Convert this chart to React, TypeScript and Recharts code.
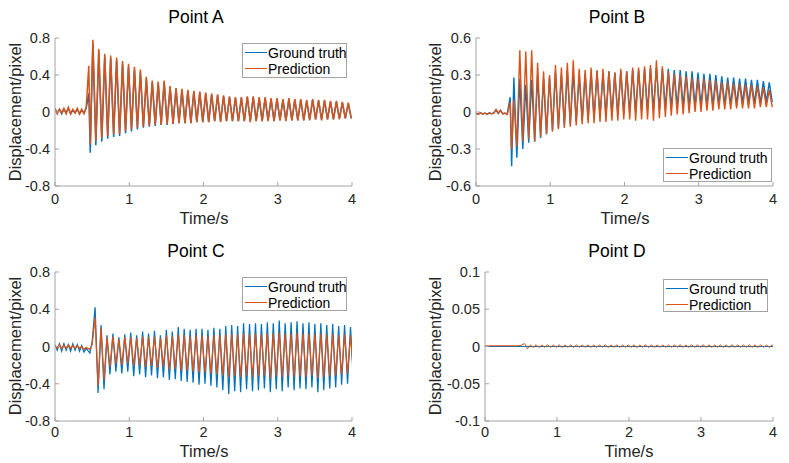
import React from "react";
import { Line, LineChart, XAxis, YAxis } from "recharts";

const BLUE = "#0072BD";
const ORANGE = "#D95319";
const AXIS = "#a3a3a3";
const TEXT = "#262626";
const FONT = '"Liberation Sans", Arial, Helvetica, sans-serif';

const timeTicks = [0, 1, 2, 3, 4];
const PRE_STEP = 0.03;

// ---- Point A ----
const aTicks = [-0.8, -0.4, 0, 0.4, 0.8];
const aPreGt = [0.03, -0.01, 0.03, -0.02, 0.03, -0.01, 0.04, -0.02, 0.02, -0.01, 0.03, -0.02, 0.02, -0.01, 0.04];
const aPrePred = [0.04, -0.02, 0.03, -0.01, 0.04, -0.02, 0.05, -0.02, 0.03, -0.01, 0.04, -0.02, 0.03, -0.02, 0.05];
const aOnsetT = [0.455, 0.475];
const aOnsetGt = [0.2, -0.44];
const aOnsetPred = [0.5, -0.35];
const aStart = 0.51;
const aPeriod = 0.08;
const aPeaksGt = [0.74, 0.65, 0.6, 0.58, 0.56, 0.52, 0.49, 0.46, 0.43, 0.36, 0.32, 0.31, 0.32, 0.27, 0.25, 0.24, 0.23, 0.22, 0.21, 0.2, 0.19, 0.18, 0.17, 0.16, 0.15, 0.15, 0.16, 0.16, 0.15, 0.15, 0.14, 0.14, 0.13, 0.14, 0.13, 0.13, 0.12, 0.13, 0.12, 0.12, 0.11, 0.11, 0.1, 0.09];
const aTroughsGt = [-0.36, -0.32, -0.29, -0.27, -0.26, -0.23, -0.21, -0.19, -0.17, -0.16, -0.15, -0.14, -0.14, -0.13, -0.12, -0.12, -0.12, -0.11, -0.11, -0.11, -0.1, -0.1, -0.1, -0.1, -0.1, -0.1, -0.1, -0.1, -0.1, -0.09, -0.1, -0.09, -0.09, -0.09, -0.09, -0.09, -0.08, -0.08, -0.08, -0.08, -0.08, -0.07, -0.07, -0.07];
const aPeaksPred = [0.78, 0.68, 0.63, 0.61, 0.59, 0.55, 0.52, 0.49, 0.46, 0.38, 0.34, 0.33, 0.34, 0.28, 0.26, 0.25, 0.24, 0.23, 0.22, 0.21, 0.2, 0.19, 0.18, 0.17, 0.16, 0.16, 0.17, 0.17, 0.16, 0.16, 0.15, 0.15, 0.14, 0.15, 0.14, 0.14, 0.13, 0.14, 0.13, 0.13, 0.12, 0.12, 0.11, 0.1];
const aTroughsPred = [-0.31, -0.28, -0.26, -0.24, -0.24, -0.21, -0.19, -0.17, -0.16, -0.15, -0.14, -0.14, -0.13, -0.13, -0.12, -0.12, -0.12, -0.11, -0.11, -0.11, -0.1, -0.11, -0.1, -0.1, -0.1, -0.1, -0.11, -0.1, -0.1, -0.1, -0.1, -0.09, -0.1, -0.09, -0.09, -0.09, -0.09, -0.08, -0.09, -0.08, -0.08, -0.08, -0.07, -0.07];

// ---- Point B ----
const bTicks = [-0.6, -0.3, 0, 0.3, 0.6];
const bPreGt = [-0.012, -0.018, -0.006, -0.016, -0.01, -0.018, -0.008, -0.014, -0.008, 0.018, -0.012, 0.012, -0.014, -0.01, -0.018];
const bPrePred = [-0.01, -0.02, -0.005, -0.018, -0.008, -0.02, -0.006, -0.015, -0.01, 0.02, -0.01, 0.015, -0.015, -0.008, -0.02];
const bOnsetT = [0.46, 0.48];
const bOnsetGt = [0.12, -0.44];
const bOnsetPred = [0.08, -0.3];
const bStart = 0.51;
const bPeriod = 0.08;
const bPeaksGt = [0.28, 0.27, 0.22, 0.26, 0.3, 0.27, 0.28, 0.32, 0.3, 0.33, 0.32, 0.3, 0.31, 0.32, 0.33, 0.31, 0.33, 0.32, 0.33, 0.33, 0.34, 0.34, 0.35, 0.36, 0.36, 0.35, 0.35, 0.34, 0.34, 0.33, 0.33, 0.32, 0.31, 0.31, 0.3, 0.29, 0.28, 0.28, 0.27, 0.27, 0.26, 0.26, 0.25, 0.24];
const bTroughsGt = [-0.37, -0.3, -0.25, -0.24, -0.21, -0.18, -0.15, -0.13, -0.11, -0.1, -0.08, -0.07, -0.06, -0.05, -0.04, -0.03, -0.02, -0.02, -0.01, 0, 0, 0.01, 0.01, 0.02, 0.02, 0.03, 0.03, 0.04, 0.04, 0.04, 0.05, 0.05, 0.05, 0.05, 0.06, 0.06, 0.06, 0.06, 0.07, 0.07, 0.07, 0.07, 0.08, 0.08];
const bPeaksPred = [0.1, 0.5, 0.49, 0.5, 0.4, 0.33, 0.3, 0.38, 0.36, 0.4, 0.42, 0.35, 0.34, 0.36, 0.34, 0.35, 0.33, 0.32, 0.35, 0.33, 0.36, 0.36, 0.37, 0.38, 0.42, 0.37, 0.33, 0.31, 0.3, 0.29, 0.28, 0.27, 0.27, 0.26, 0.25, 0.24, 0.24, 0.23, 0.23, 0.22, 0.22, 0.21, 0.2, 0.18];
const bTroughsPred = [-0.28, -0.24, -0.22, -0.24, -0.2, -0.18, -0.16, -0.14, -0.13, -0.12, -0.11, -0.1, -0.09, -0.09, -0.08, -0.08, -0.07, -0.07, -0.06, -0.06, -0.07, -0.06, -0.06, -0.07, -0.05, -0.04, -0.03, -0.02, -0.02, -0.01, 0, 0, 0.01, 0.01, 0.02, 0.02, 0.02, 0.03, 0.03, 0.03, 0.03, 0.04, 0.04, 0.04];

// ---- Point C ----
const cTicks = [-0.8, -0.4, 0, 0.4, 0.8];
const cPreGt = [0.02, -0.04, 0.03, -0.05, 0.03, -0.04, 0.02, -0.05, 0.03, -0.04, 0.02, -0.05, 0.01, -0.06, -0.02];
const cPrePred = [0.01, -0.02, 0.02, -0.02, 0.01, -0.02, 0.02, -0.02, 0.01, -0.02, 0.01, -0.02, 0, -0.03, -0.01];
const cOnsetT = [0.47, 0.5, 0.54, 0.58, 0.62, 0.66];
const cOnsetGt = [-0.07, 0.05, 0.42, -0.5, 0.23, -0.46];
const cOnsetPred = [-0.03, 0.02, 0.31, -0.42, 0.2, -0.36];
const cStart = 0.7;
const cPeriod = 0.08;
const cPeaksGt = [0.12, 0.14, 0.1, 0.13, 0.15, 0.12, 0.16, 0.14, 0.17, 0.12, 0.18, 0.16, 0.21, 0.19, 0.18, 0.19, 0.19, 0.18, 0.2, 0.19, 0.22, 0.23, 0.22, 0.25, 0.24, 0.25, 0.24, 0.26, 0.25, 0.28, 0.25, 0.26, 0.27, 0.25, 0.26, 0.24, 0.25, 0.23, 0.24, 0.22, 0.23, 0.21];
const cTroughsGt = [-0.3, -0.27, -0.29, -0.27, -0.32, -0.3, -0.33, -0.31, -0.34, -0.33, -0.36, -0.35, -0.37, -0.38, -0.39, -0.41, -0.4, -0.42, -0.44, -0.47, -0.51, -0.48, -0.49, -0.46, -0.48, -0.47, -0.45, -0.49, -0.46, -0.48, -0.44, -0.47, -0.45, -0.46, -0.44, -0.49, -0.47, -0.45, -0.44, -0.41, -0.4, -0.38];
const cPeaksPred = [0.1, 0.11, 0.08, 0.1, 0.1, 0.09, 0.11, 0.1, 0.11, 0.09, 0.12, 0.11, 0.13, 0.12, 0.11, 0.12, 0.12, 0.11, 0.12, 0.12, 0.13, 0.13, 0.13, 0.14, 0.13, 0.14, 0.13, 0.14, 0.14, 0.15, 0.14, 0.14, 0.15, 0.14, 0.14, 0.13, 0.14, 0.13, 0.13, 0.12, 0.13, 0.12];
const cTroughsPred = [-0.22, -0.19, -0.2, -0.18, -0.21, -0.2, -0.22, -0.21, -0.23, -0.22, -0.25, -0.24, -0.26, -0.26, -0.27, -0.28, -0.28, -0.29, -0.3, -0.31, -0.33, -0.32, -0.33, -0.31, -0.33, -0.32, -0.31, -0.34, -0.32, -0.33, -0.31, -0.33, -0.32, -0.33, -0.31, -0.34, -0.33, -0.32, -0.31, -0.3, -0.29, -0.28];

// ---- Point D ----
const dTicks = [-0.1, -0.05, 0, 0.05, 0.1];
const dGtFlat = [0, 0];
const dPrePred = [0.001, 0.001];
const dOnsetT = [0.5];
const dOnsetPred = [0.0015];
const dStart = 0.55;
const dPeriod = 0.08;
const dPeaksPred = [0.004, 0.0022, 0.0025, 0.002, 0.0022, 0.002, 0.0024, 0.002, 0.0021, 0.0023, 0.002, 0.0022, 0.002, 0.0021, 0.0023, 0.002, 0.0022, 0.002, 0.0021, 0.0022, 0.002, 0.0023, 0.0021, 0.002, 0.0022, 0.002, 0.0021, 0.0023, 0.002, 0.0022, 0.0021, 0.0024, 0.0022, 0.002, 0.0023, 0.0021, 0.0024, 0.0022, 0.0021, 0.0023, 0.0022, 0.0024, 0.0021, 0.0022];
const dTroughsPred = [-0.003, -0.0012, -0.0014, -0.001, -0.0012, -0.0011, -0.0013, -0.001, -0.0012, -0.0011, -0.001, -0.0012, -0.0011, -0.001, -0.0013, -0.0011, -0.0012, -0.001, -0.0011, -0.0012, -0.001, -0.0013, -0.0011, -0.001, -0.0012, -0.0011, -0.001, -0.0012, -0.0011, -0.0013, -0.001, -0.0012, -0.0011, -0.001, -0.0013, -0.0012, -0.0011, -0.001, -0.0012, -0.0011, -0.0013, -0.001, -0.0012, -0.0011];

type Pt = { t: number; v: number };

function buildSeries(
  pre: number[],
  preStep: number,
  onsetT: number[],
  onsetV: number[],
  start: number,
  period: number,
  peaks: number[],
  troughs: number[]
): Pt[] {
  const pts: Pt[] = pre.map((v, i) => ({ t: i * preStep, v }));
  onsetT.forEach((t, i) => pts.push({ t, v: onsetV[i] }));
  peaks.forEach((p, i) => {
    const t = start + i * period;
    pts.push({ t, v: p });
    if (troughs[i] !== undefined) pts.push({ t: t + period / 2, v: troughs[i] });
  });
  return pts;
}

const seriesA = {
  gt: buildSeries(aPreGt, PRE_STEP, aOnsetT, aOnsetGt, aStart, aPeriod, aPeaksGt, aTroughsGt),
  pred: buildSeries(aPrePred, PRE_STEP, aOnsetT, aOnsetPred, aStart, aPeriod, aPeaksPred, aTroughsPred),
};
const seriesB = {
  gt: buildSeries(bPreGt, PRE_STEP, bOnsetT, bOnsetGt, bStart, bPeriod, bPeaksGt, bTroughsGt),
  pred: buildSeries(bPrePred, PRE_STEP, bOnsetT, bOnsetPred, bStart, bPeriod, bPeaksPred, bTroughsPred),
};
const seriesC = {
  gt: buildSeries(cPreGt, PRE_STEP, cOnsetT, cOnsetGt, cStart, cPeriod, cPeaksGt, cTroughsGt),
  pred: buildSeries(cPrePred, PRE_STEP, cOnsetT, cOnsetPred, cStart, cPeriod, cPeaksPred, cTroughsPred),
};
const seriesD = {
  gt: buildSeries(dGtFlat, 4, [], [], 0, 0, [], []),
  pred: buildSeries(dPrePred, 0.45, dOnsetT, dOnsetPred, dStart, dPeriod, dPeaksPred, dTroughsPred),
};

type PanelProps = {
  left: number;
  top: number;
  width: number;
  height: number;
  margin: { top: number; right: number; bottom: number; left: number };
  yAxisWidth: number;
  yTicks: number[];
  xTickMargin: number;
  lineWidth: number;
  gt: Pt[];
  pred: Pt[];
};

const tickStyle = { fill: TEXT, fontSize: 14.5, fontFamily: FONT };

function Panel(p: PanelProps) {
  const domain = [p.yTicks[0], p.yTicks[p.yTicks.length - 1]];
  return (
    <div style={{ position: "absolute", left: p.left, top: p.top }}>
      <LineChart width={p.width} height={p.height} margin={p.margin}>
        <XAxis
          xAxisId="b"
          dataKey="t"
          type="number"
          domain={[0, 4]}
          ticks={timeTicks}
          allowDataOverflow
          height={30}
          tickSize={-4}
          tickMargin={p.xTickMargin}
          stroke={AXIS}
          tick={tickStyle}
        />
        <XAxis xAxisId="top" orientation="top" type="number" domain={[0, 4]} ticks={timeTicks} allowDataOverflow height={0} tickSize={-4} tick={false} stroke={AXIS} />
        <YAxis
          yAxisId="l"
          type="number"
          domain={domain}
          ticks={p.yTicks}
          allowDataOverflow
          width={p.yAxisWidth}
          tickSize={-4}
          tickMargin={9}
          stroke={AXIS}
          tick={tickStyle}
        />
        <YAxis yAxisId="r" orientation="right" type="number" domain={domain} ticks={p.yTicks} allowDataOverflow width={0} tickSize={-4} tick={false} stroke={AXIS} />
        <Line xAxisId="b" yAxisId="l" data={p.gt} dataKey="v" stroke={BLUE} strokeWidth={p.lineWidth} dot={false} isAnimationActive={false} />
        <Line xAxisId="b" yAxisId="l" data={p.pred} dataKey="v" stroke={ORANGE} strokeWidth={p.lineWidth} dot={false} isAnimationActive={false} />
      </LineChart>
    </div>
  );
}

function Centered({ x, y, size, children, rotate, color }: { x: number; y: number; size: number; children: React.ReactNode; rotate?: boolean; color?: string }) {
  return (
    <div
      style={{
        position: "absolute",
        left: x,
        top: y,
        transform: `translate(-50%, -50%)${rotate ? " rotate(-90deg)" : ""}`,
        fontSize: size,
        lineHeight: 1,
        whiteSpace: "nowrap",
        color: color ?? TEXT,
        fontFamily: FONT,
      }}
    >
      {children}
    </div>
  );
}

function LegendBox({ x, y, w, h }: { x: number; y: number; w: number; h: number }) {
  const rows = [
    { label: "Ground truth", color: BLUE, cy: 9 },
    { label: "Prediction", color: ORANGE, cy: 25 },
  ];
  return (
    <div style={{ position: "absolute", left: x, top: y, width: w, height: h, border: `1px solid ${AXIS}`, background: "#fff", boxSizing: "border-box" }}>
      {rows.map((r) => (
        <React.Fragment key={r.label}>
          <div style={{ position: "absolute", left: 2, top: r.cy - 1, width: 22, height: 0, borderTop: `1px solid ${r.color}` }} />
          <div style={{ position: "absolute", left: 25, top: r.cy - 8, fontSize: 14, lineHeight: "16px", color: "#000", fontFamily: FONT, whiteSpace: "nowrap" }}>{r.label}</div>
        </React.Fragment>
      ))}
    </div>
  );
}

export default function App() {
  return (
    <div style={{ position: "absolute", left: 0, top: 0, width: 789, height: 463, background: "#fff", overflow: "hidden" }}>
      <Panel left={0} top={0} width={395} height={230} margin={{ top: 38, right: 43, bottom: 14, left: 0 }} yAxisWidth={55} yTicks={aTicks} xTickMargin={12} lineWidth={1.5} gt={seriesA.gt} pred={seriesA.pred} />
      <Panel left={395} top={0} width={394} height={230} margin={{ top: 38, right: 16, bottom: 14, left: 0 }} yAxisWidth={81} yTicks={bTicks} xTickMargin={12} lineWidth={1.4} gt={seriesB.gt} pred={seriesB.pred} />
      <Panel left={0} top={230} width={395} height={233} margin={{ top: 42, right: 43, bottom: 12, left: 0 }} yAxisWidth={55} yTicks={cTicks} xTickMargin={10} lineWidth={1.25} gt={seriesC.gt} pred={seriesC.pred} />
      <Panel left={395} top={230} width={394} height={233} margin={{ top: 42, right: 16, bottom: 12, left: 0 }} yAxisWidth={90} yTicks={dTicks} xTickMargin={10} lineWidth={1} gt={seriesD.gt} pred={seriesD.pred} />

      <Centered x={196} y={18} size={17.5} color="#000">Point A</Centered>
      <Centered x={617} y={18} size={17.5} color="#000">Point B</Centered>
      <Centered x={196} y={252} size={17.5} color="#000">Point C</Centered>
      <Centered x={617} y={252} size={17.5} color="#000">Point D</Centered>

      <Centered x={204} y={218} size={16.5}>Time/s</Centered>
      <Centered x={625} y={218} size={16.5}>Time/s</Centered>
      <Centered x={204} y={451} size={16.5}>Time/s</Centered>
      <Centered x={629} y={451} size={16.5}>Time/s</Centered>

      <Centered x={15} y={112} size={16.5} rotate>Displacement/pixel</Centered>
      <Centered x={435} y={112} size={16.5} rotate>Displacement/pixel</Centered>
      <Centered x={15} y={346} size={16.5} rotate>Displacement/pixel</Centered>
      <Centered x={435} y={346} size={16.5} rotate>Displacement/pixel</Centered>

      <LegendBox x={242} y={43} w={105} h={35} />
      <LegendBox x={663} y={148} w={109} h={34} />
      <LegendBox x={242} y={277} w={105} h={34} />
      <LegendBox x={663} y={279} w={105} h={33} />
    </div>
  );
}
